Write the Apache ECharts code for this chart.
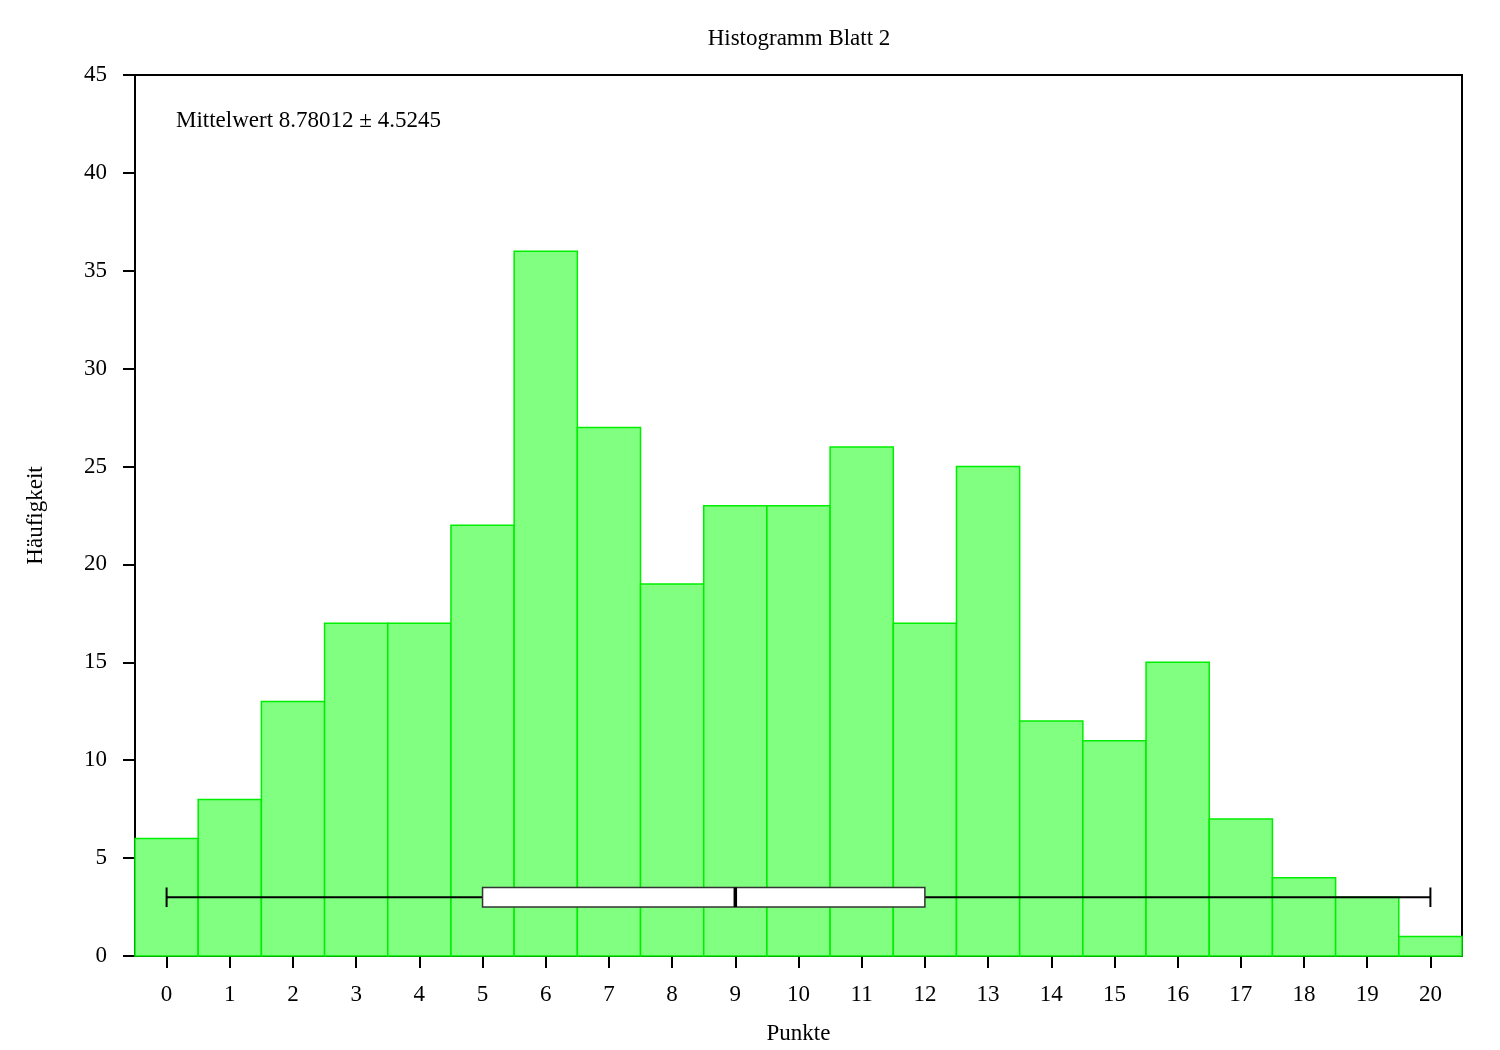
<!DOCTYPE html>
<html>
<head>
<meta charset="utf-8">
<script src="https://cdn.jsdelivr.net/npm/echarts@6/dist/echarts.min.js"></script>
<style>html,body{margin:0;padding:0;background:#fff;overflow:hidden;}#c{width:1500px;height:1050px;}</style>
</head>
<body>
<div id="c"></div>
<script>
var points = [0,1,2,3,4,5,6,7,8,9,10,11,12,13,14,15,16,17,18,19,20];
var counts = [6,8,13,17,17,22,36,27,19,23,23,26,17,25,12,11,15,7,4,3,1];
var boxStats = [0,5,9,12,20]; // min, q1, median, q3, max
var boxLevel = 3;
var boxHalf = 0.5;
var titleText = 'Histogramm Blatt 2';
var meanText = 'Mittelwert 8.78012 \u00b1 4.5245';

var FONT = 'Liberation Serif';
var FS = 23;
var chart = echarts.init(document.getElementById('c'));
var barData = points.map(function(p,i){return [p, counts[i]];});

chart.setOption({
  animation:false,
  backgroundColor:'#fff',
  grid:{left:135,width:1327,top:75,height:881,show:true,borderColor:'#000',borderWidth:2,backgroundColor:'transparent'},
  xAxis:{type:'value',min:-0.5,max:20.5,name:'Punkte',nameLocation:'middle',nameGap:66,
    nameTextStyle:{fontFamily:FONT,fontSize:FS,color:'#000'},
    axisLine:{show:true,onZero:false,lineStyle:{color:'#000',width:2}},
    axisTick:{show:true,inside:false,length:12,lineStyle:{color:'#000',width:2},customValues:points},
    axisLabel:{fontFamily:FONT,fontSize:FS,color:'#000',margin:27,customValues:points},
    splitLine:{show:false}},
  yAxis:{type:'value',min:0,max:45,interval:5,name:'H\u00e4ufigkeit',nameLocation:'middle',nameGap:88,nameRotate:90,
    nameTextStyle:{fontFamily:FONT,fontSize:FS,color:'#000'},
    axisLine:{show:true,onZero:false,lineStyle:{color:'#000',width:2}},
    axisTick:{show:true,inside:false,length:12,lineStyle:{color:'#000',width:2}},
    axisLabel:{fontFamily:FONT,fontSize:FS,color:'#000',margin:28},
    splitLine:{show:false}},
  series:[
    {type:'custom',data:barData,z:2,
     renderItem:function(params,api){
       var x=api.value(0),v=api.value(1);
       var p0=api.coord([x-0.5,v]);var p1=api.coord([x+0.5,0]);
       return {type:'rect',shape:{x:p0[0],y:p0[1],width:p1[0]-p0[0],height:p1[1]-p0[1]},
         style:{fill:'#80ff80',stroke:'#00ee00',lineWidth:1.5}};
     }},
    {type:'custom',data:[boxStats],z:5,
     renderItem:function(params,api){
       var mn=api.value(0),q1=api.value(1),md=api.value(2),q3=api.value(3),mx=api.value(4);
       var a=api.coord([mn,boxLevel]),b=api.coord([q1,boxLevel]),c=api.coord([md,boxLevel]),d=api.coord([q3,boxLevel]),e=api.coord([mx,boxLevel]);
       var top=api.coord([0,boxLevel+boxHalf])[1],bot=api.coord([0,boxLevel-boxHalf])[1];
       var ls={stroke:'#000',lineWidth:2};
       return {type:'group',children:[
         {type:'line',shape:{x1:a[0],y1:a[1],x2:b[0],y2:b[1]},style:ls},
         {type:'line',shape:{x1:d[0],y1:d[1],x2:e[0],y2:e[1]},style:ls},
         {type:'line',shape:{x1:a[0],y1:top,x2:a[0],y2:bot},style:ls},
         {type:'line',shape:{x1:e[0],y1:top,x2:e[0],y2:bot},style:ls},
         {type:'rect',shape:{x:b[0],y:top,width:d[0]-b[0],height:bot-top},style:{fill:'#fff',stroke:'#333',lineWidth:1.5}},
         {type:'line',shape:{x1:c[0],y1:top,x2:c[0],y2:bot},style:{stroke:'#000',lineWidth:3.5}}
       ]};
     }}
  ],
  graphic:[
    {type:'text',x:799,y:39,style:{text:titleText,fontFamily:FONT,fontSize:FS,fill:'#000',textAlign:'center',textVerticalAlign:'middle'}},
    {type:'text',x:176,y:121,style:{text:meanText,fontFamily:FONT,fontSize:FS,fill:'#000',textAlign:'left',textVerticalAlign:'middle'}}
  ]
});
</script>
</body>
</html>
